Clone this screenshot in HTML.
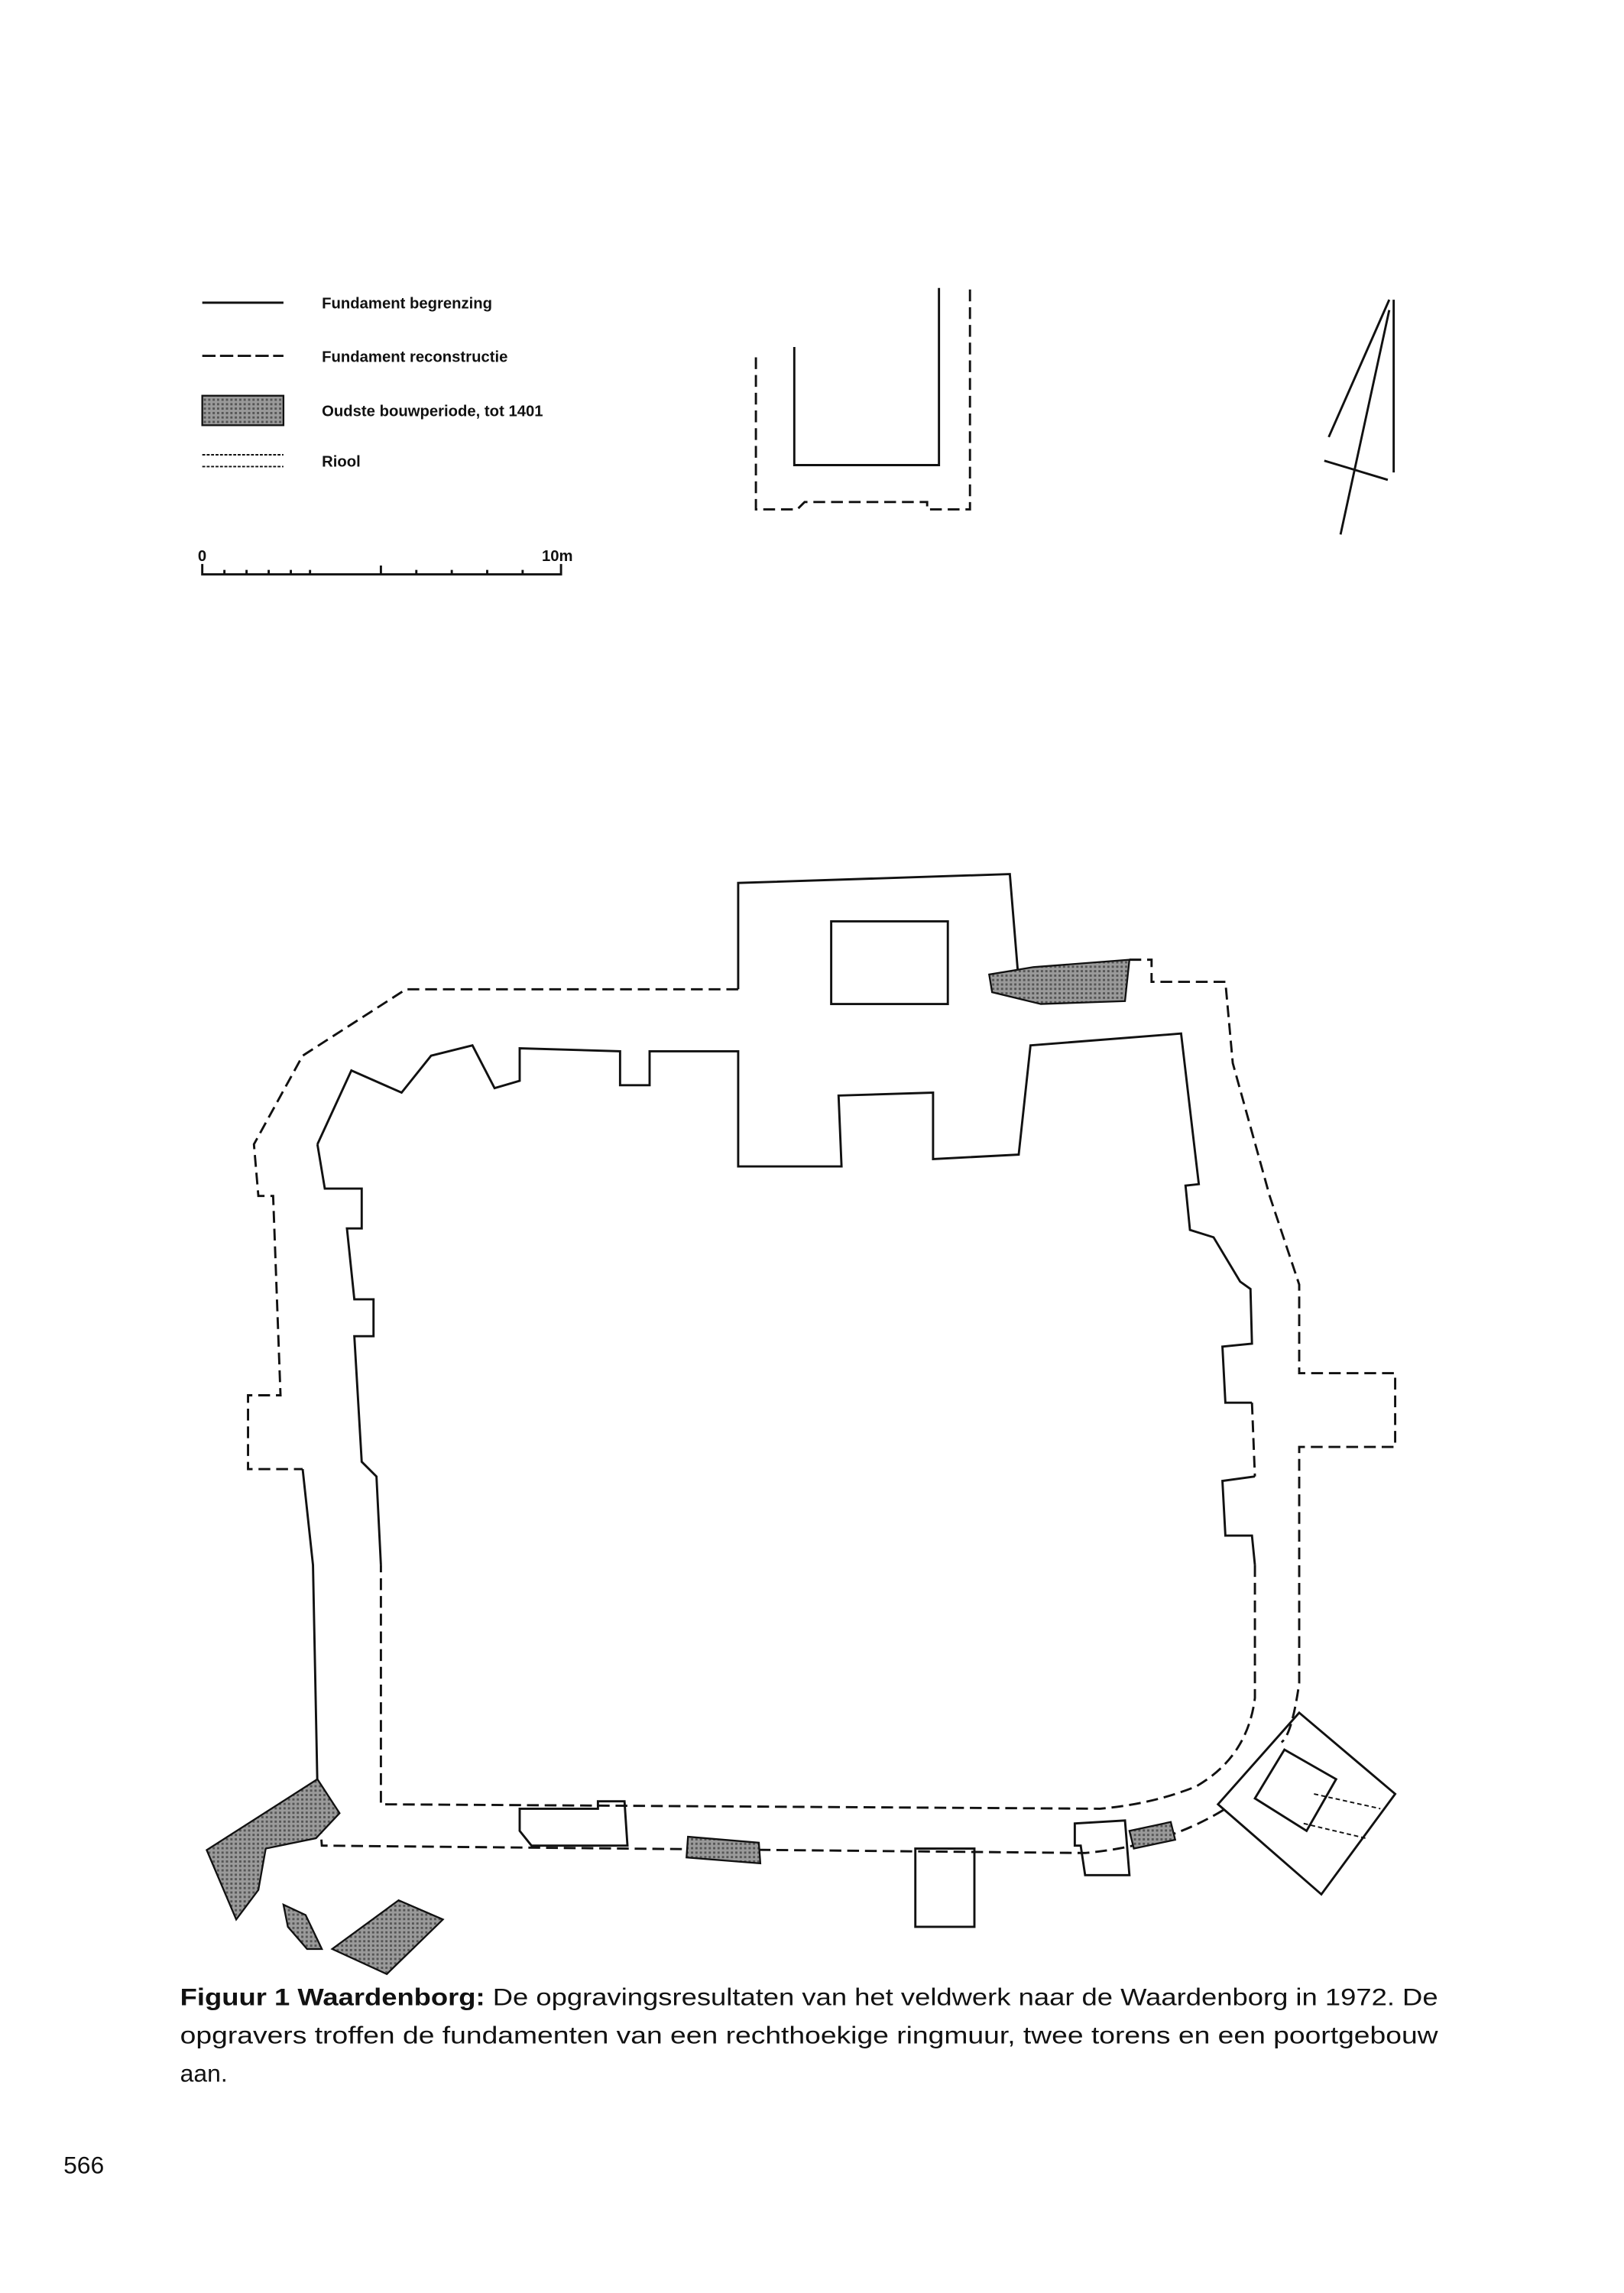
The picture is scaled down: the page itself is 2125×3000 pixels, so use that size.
<!DOCTYPE html>
<html><head><meta charset="utf-8"><style>
html,body{margin:0;padding:0;background:#fff;}
svg{display:block;}
</style></head><body>
<svg width="2125" height="3000" viewBox="0 0 1100 1553" preserveAspectRatio="none" xmlns="http://www.w3.org/2000/svg">
<defs>
<pattern id="h" width="3" height="3" patternUnits="userSpaceOnUse">
<rect width="3" height="3" fill="#9a9a9a"/><rect width="1.5" height="1.5" fill="#555"/>
</pattern>
</defs>
<g font-family="Liberation Sans Narrow, Liberation Sans, sans-serif" font-weight="bold" font-size="10.5" fill="#111">
<line x1="137" y1="205" x2="192" y2="205" stroke="#111" stroke-width="1.5"/>
<text x="218" y="209">Fundament begrenzing</text>
<line x1="137" y1="241" x2="192" y2="241" stroke="#111" stroke-width="1.5" stroke-dasharray="9,3"/>
<text x="218" y="245">Fundament reconstructie</text>
<rect x="137" y="268" width="55" height="20" fill="url(#h)" stroke="#111" stroke-width="1.2"/>
<text x="218" y="282">Oudste bouwperiode, tot 1401</text>
<line x1="137" y1="308" x2="192" y2="308" stroke="#111" stroke-width="1" stroke-dasharray="2,1"/>
<line x1="137" y1="316" x2="192" y2="316" stroke="#111" stroke-width="1" stroke-dasharray="2,1"/>
<text x="218" y="316">Riool</text>
<text x="134" y="380">0</text>
<text x="367" y="380">10m</text>
</g>
<g stroke="#111" fill="none" stroke-width="1.5">
<path d="M137,382 V389 H380 V382"/>
<path d="M152,389v-3 M167,389v-3 M182,389v-3 M197,389v-3 M210,389v-3 M258,389v-6 M282,389v-3 M306,389v-3 M330,389v-3 M354,389v-3"/>
<path d="M538,235 V315 H636 V195" />
<path d="M512,242 V345 H540 L545,340 H628 V345 H657 V195" stroke-dasharray="8,4"/>
<path d="M941,203 L900,296 M944,203 V320 M941,210 L908,362 M897,312 L940,325"/>
<path d="M500,670 V598 L684,592 L690,665"/>
<rect x="563" y="624" width="79" height="56"/>
<path d="M500,670 H275 L205,715 L172,775 L175,810 H185 L190,945 H168 V995 H205" stroke-dasharray="8,4"/>
<path d="M205,995 L212,1060 L215,1210"/>
<path d="M215,1210 L218,1250 L735,1255 Q790,1250 830,1225" stroke-dasharray="8,4"/>
<path d="M765,650 H780 V665 H830 L835,720 L860,810 L880,870 V930 H945 V980 H880 V1140 Q875,1175 868,1180" stroke-dasharray="8,4"/>
<path d="M215,775 L238,725 L272,740 L292,715 L320,708 L335,737 L352,732 V710 L420,712 V735 L440,735 V712 H500 V790 H570 L568,742 L632,740 V785 L690,782 L698,708 L800,700 L812,802 L803,803 L806,833 L822,838 L840,868 L847,873 L848,910 L828,912 L830,950 H848"/>
<path d="M848,950 L850,1000" stroke-dasharray="8,4"/>
<path d="M850,1000 L828,1003 L830,1040 H848 L850,1060"/>
<path d="M850,1060 V1150 Q845,1190 810,1210 Q780,1222 745,1225 L258,1222 V1060" stroke-dasharray="8,4"/>
<path d="M258,1060 L255,1000 L245,990 L240,905 H253 V880 H240 L235,832 H245 V805 H220 L215,775"/>
<path d="M352,1225 H405 V1220 H423 L425,1250 H360 L352,1240 Z"/>
<rect x="620" y="1252" width="40" height="53"/>
<path d="M728,1235 L762,1233 L765,1270 H735 L732,1250 H728 Z"/>
<path d="M880,1160 L945,1215 L895,1283 L825,1222 Z"/>
<path d="M870,1185 L905,1205 L885,1240 L850,1218 Z"/>
<path d="M890,1215 L935,1225 M883,1235 L925,1245" stroke-dasharray="3,2" stroke-width="1"/>
</g>
<g fill="url(#h)" stroke="#111" stroke-width="1.2">
<path d="M670,660 L700,655 L765,650 L762,678 L705,680 L672,672 Z"/>
<path d="M466,1244 L514,1248 L515,1262 L465,1258 Z"/>
<path d="M765,1240 L793,1234 L796,1246 L768,1252 Z"/>
<path d="M140,1253 L215,1205 L230,1228 L214,1245 L180,1252 L175,1280 L160,1300 Z"/>
<path d="M192,1290 L207,1297 L218,1320 L208,1320 L195,1305 Z"/>
<path d="M225,1320 L270,1287 L300,1300 L262,1337 Z"/>
</g>
<g font-family="Liberation Sans, sans-serif" font-size="16.5" fill="#111">
<text x="122" y="1358" textLength="852" lengthAdjust="spacingAndGlyphs"><tspan font-weight="bold">Figuur 1 Waardenborg:</tspan> De opgravingsresultaten van het veldwerk naar de Waardenborg in 1972. De</text>
<text x="122" y="1384" textLength="852" lengthAdjust="spacingAndGlyphs">opgravers troffen de fundamenten van een rechthoekige ringmuur, twee torens en een poortgebouw</text>
<text x="122" y="1410">aan.</text>
<text x="43" y="1472">566</text>
</g>
</svg>
</body></html>
